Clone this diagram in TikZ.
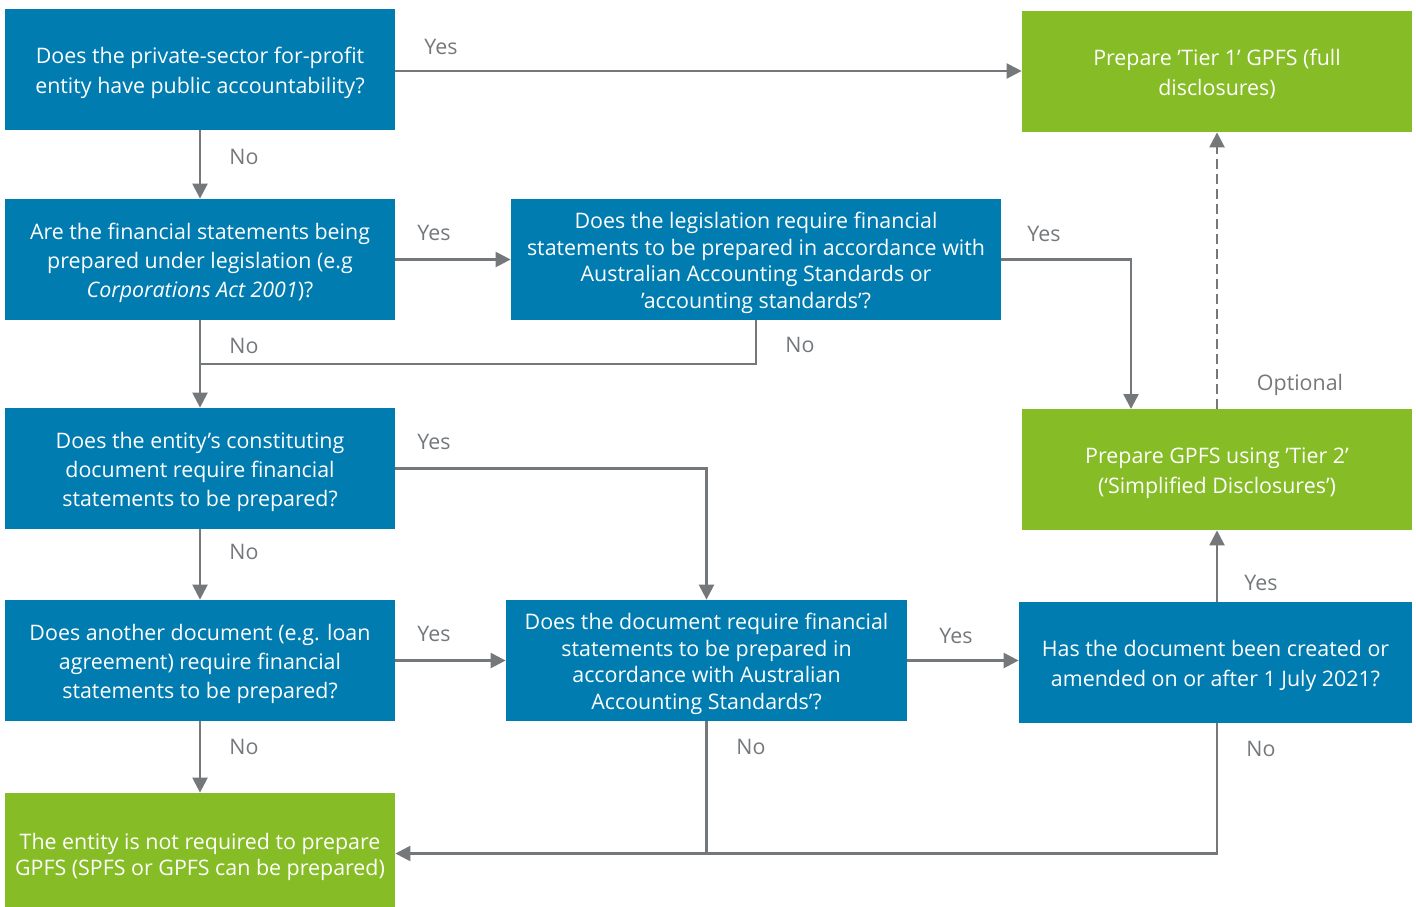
\documentclass[tikz,border=0pt]{standalone}
\usepackage{fontspec}
\setmainfont{Open Sans}
\usetikzlibrary{arrows.meta}
\definecolor{dblue}{HTML}{007CB0}
\definecolor{dgreen}{HTML}{86BC25}
\definecolor{lgray}{HTML}{75787B}
\newcommand{\tS}{\rule{0pt}{11.6pt}}
\newcommand{\bS}{\rule[-2.6pt]{0pt}{2.6pt}}
\tikzset{
  box/.style={rectangle, inner sep=0pt, minimum height=60.5pt, align=center, text=white,
    font=\fontsize{10.7}{14.6}\selectfont},
  tightbox/.style={font=\fontsize{10.7}{13.2}\selectfont},
  qbox/.style={box, fill=dblue},
  abox/.style={box, fill=dgreen},
  conn/.style={draw=lgray, line width=1.2pt},
  arr/.style={conn, -{Triangle[length=7.5pt,width=7.5pt]}},
  lbl/.style={text=lgray, font=\fontsize{10.7}{13}\selectfont, inner sep=0pt, anchor=base},
}
\begin{document}
\begin{tikzpicture}[x=0.5pt,y=-0.5pt]
\useasboundingbox (0,0) rectangle (1416,906);
% nodes
\node[qbox, minimum width=195pt] (A) at (200,69.5) {\tS Does the private-sector for-profit\\entity have public accountability?\bS};
\node[abox, minimum width=195pt] (T1) at (1217,71.5) {\tS Prepare ’Tier 1’ GPFS (full\\disclosures)\bS};
\node[qbox, minimum width=195pt] (B) at (200,259.5) {\tS Are the financial statements being\\prepared under legislation (e.g\\\textit{Corporations Act 2001})?\bS};
\node[qbox, tightbox, minimum width=245pt] (C) at (756,259.5) {\tS Does the legislation require financial\\statements to be prepared in accordance with\\Australian Accounting Standards or\\’accounting standards’?\bS};
\node[qbox, minimum width=195pt] (D) at (200,468.5) {\tS Does the entity’s constituting\\document require financial\\statements to be prepared?\bS};
\node[abox, minimum width=195pt] (T2) at (1217,469.5) {\tS Prepare GPFS using ’Tier 2’\\(‘Simplified Disclosures’)\bS};
\node[qbox, minimum width=195pt] (E) at (200,660.5) {\tS Does another document (e.g. loan\\agreement) require financial\\statements to be prepared?\bS};
\node[qbox, tightbox, minimum width=200.5pt] (F) at (706.5,660.5) {\tS Does the document require financial\\statements to be prepared in\\accordance with Australian\\Accounting Standards’?\bS};
\node[qbox, minimum width=196.5pt] (G) at (1215.5,662.5) {\tS Has the document been created or\\amended on or after 1 July 2021?\bS};
\node[abox, minimum width=195pt, font=\fontsize{10.7}{13.4}\selectfont] (H) at (200,853.5) {\tS The entity is not required to prepare\\GPFS (SPFS or GPFS can be prepared)\bS};
% helper coordinates
\coordinate (t2in) at (1131,409);
\coordinate (j1) at (200,364);
% connectors
\draw[arr] ([yshift=-0.75pt]A.east) -- ([yshift=-0.75pt]A.east -| T1.west);
\draw[arr] (A.south) -- (B.north);
\draw[arr] (B.east) -- (C.west);
\draw[arr] (C.east) -| (t2in);
\draw[arr] (B.south) -- (D.north);
\draw[conn] (C.south) |- (j1);
\draw[arr] (D.east) -| (F.north);
\draw[arr, dashed, dash pattern=on 5pt off 2.5pt] (T2.north) -- (T1.south);
\draw[arr] (D.south) -- (E.north);
\draw[arr] (E.east) -- (F.west);
\draw[arr] (F.east) -- (F.east -| G.west);
\draw[arr] (G.north -| T2.south) -- (T2.south);
\draw[arr] (E.south) -- (H.north);
\draw[arr] (F.south) |- (H.east);
\draw[conn] (G.south -| T2.south) |- (F.south |- H.east);
% labels
\node[lbl] (l1) at (441,54.5) {Yes};
\node[lbl] (l2) at (244,164.5) {No};
\node[lbl] (l3) at (434,240.5) {Yes};
\node[lbl] (l4) at (1044,241.5) {Yes};
\node[lbl] (l5) at (244,353.5) {No};
\node[lbl] (l6) at (800,352.5) {No};
\node[lbl] (l7) at (1300,390) {Optional};
\node[lbl] (l8) at (434,449.5) {Yes};
\node[lbl] (l9) at (244,559.5) {No};
\node[lbl] (l10) at (434,641.5) {Yes};
\node[lbl] (l11) at (956,643.5) {Yes};
\node[lbl] (l12) at (1261,590.5) {Yes};
\node[lbl] (l13) at (244,754.5) {No};
\node[lbl] (l14) at (751,754.5) {No};
\node[lbl] (l15) at (1261,756.5) {No};
\end{tikzpicture}
\end{document}
